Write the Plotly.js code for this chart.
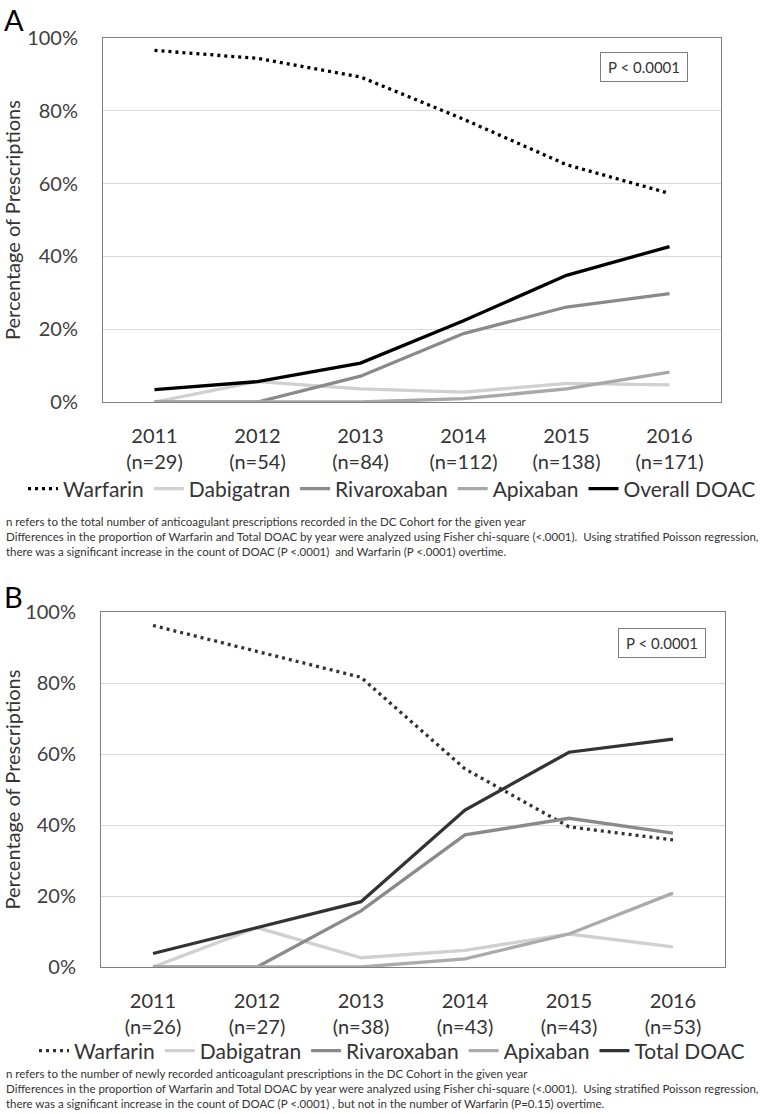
<!DOCTYPE html>
<html>
<head>
<meta charset="utf-8">
<script src="https://cdn.plot.ly/plotly-3.0.1.min.js"></script>
<style>
  body { margin: 0; background: #fff; }
  #chart { width: 784px; height: 1114px; }
</style>
</head>
<body>
<div id="chart"></div>
<script>
const years = ["2011", "2012", "2013", "2014", "2015", "2016"];
const nA = [29, 54, 84, 112, 138, 171];
const nB = [26, 27, 38, 43, 43, 53];

// panel A: all anticoagulant prescriptions (%)
const warfarinA = [96.6, 94.4, 89.3, 77.7, 65.2, 57.3];
const dabigatranA = [0, 5.6, 3.6, 2.7, 5.1, 4.7];
const rivaroxabanA = [0, 0, 7.1, 18.8, 26.1, 29.8];
const apixabanA = [0, 0, 0, 0.9, 3.6, 8.2];
const doacA = [3.4, 5.6, 10.7, 22.3, 34.8, 42.7];

// panel B: newly recorded prescriptions (%)
const warfarinB = [96.2, 88.9, 81.6, 55.8, 39.5, 35.8];
const dabigatranB = [0, 11.1, 2.6, 4.7, 9.3, 5.7];
const rivaroxabanB = [0, 0, 15.8, 37.2, 41.9, 37.7];
const apixabanB = [0, 0, 0, 2.3, 9.3, 20.8];
const doacB = [3.8, 11.1, 18.4, 44.2, 60.5, 64.2];

const yTicks = [0, 20, 40, 60, 80, 100];

const FONT = "Lato, Liberation Sans, Arial, sans-serif";
const W = 784, H = 1114;
const px = v => v / W;
const py = v => 1 - v / H;

function line(y, name, color, dash, xa, ya, leg) {
    return {
        x: years, y: y, name: name,
        type: "scatter", mode: "lines",
        line: {color: color, width: 3.3, dash: dash},
        xaxis: xa, yaxis: ya, legend: leg,
        cliponaxis: false, hoverinfo: "skip"
    };
}

const dotDash = "3px,4px";
const traces = [
    line(warfarinA, "Warfarin", "#000000", dotDash, "x", "y", "legend"),
    line(dabigatranA, "Dabigatran", "#d0d0d0", "solid", "x", "y", "legend"),
    line(rivaroxabanA, "Rivaroxaban", "#8a8a8a", "solid", "x", "y", "legend"),
    line(apixabanA, "Apixaban", "#a8a8a8", "solid", "x", "y", "legend"),
    line(doacA, "Overall DOAC", "#000000", "solid", "x", "y", "legend"),
    line(warfarinB, "Warfarin", "#333333", dotDash, "x2", "y2", "legend2"),
    line(dabigatranB, "Dabigatran", "#d0d0d0", "solid", "x2", "y2", "legend2"),
    line(rivaroxabanB, "Rivaroxaban", "#8a8a8a", "solid", "x2", "y2", "legend2"),
    line(apixabanB, "Apixaban", "#ababab", "solid", "x2", "y2", "legend2"),
    line(doacB, "Total DOAC", "#333333", "solid", "x2", "y2", "legend2")
];

function xAxis(domain, counts) {
    return {
        domain: domain, type: "category", range: [-0.5, 5.5],
        tickmode: "array", tickvals: years,
        ticktext: years.map((y, i) => y + "<br>(n=" + counts[i] + ")"),
        ticks: "", showgrid: false, zeroline: false,
        showline: true, mirror: true, linecolor: "#7f7f7f", linewidth: 1,
        layer: "below traces", ticklabelstandoff: 16,
        tickfont: {family: FONT, size: 20, color: "#333333"}, fixedrange: true
    };
}

function yAxis(domain, anchor) {
    return {
        domain: domain, anchor: anchor, range: [0, 100],
        tickmode: "array", tickvals: yTicks, ticktext: yTicks.map(v => v + "%"),
        ticks: "",
        showgrid: true, gridcolor: "#d9d9d9", gridwidth: 1, zeroline: false,
        showline: true, mirror: true, linecolor: "#7f7f7f", linewidth: 1,
        layer: "below traces", ticklabelstandoff: 20,
        tickfont: {family: FONT, size: 20, color: "#404040"},
        title: {text: "Percentage of Prescriptions", standoff: 12,
                font: {family: FONT, size: 20, color: "#333333"}},
        fixedrange: true
    };
}

const notesA = "n refers to the total number of anticoagulant prescriptions recorded in the DC Cohort for the given year<br>" +
    "Differences in the proportion of Warfarin and Total DOAC by year were analyzed using Fisher chi-square (<.0001).  Using stratified Poisson regression,<br>" +
    "there was a significant increase in the count of DOAC (P <.0001)  and Warfarin (P <.0001) overtime.";
const notesB = "n refers to the number of newly recorded anticoagulant prescriptions in the DC Cohort in the given year<br>" +
    "Differences in the proportion of Warfarin and Total DOAC by year were analyzed using Fisher chi-square (<.0001).  Using stratified Poisson regression,<br>" +
    "there was a significant increase in the count of DOAC (P <.0001) , but not in the number of Warfarin (P=0.15) overtime.";

function note(text, y) {
    return {
        text: text, xref: "paper", yref: "paper", x: px(4), y: py(y),
        xanchor: "left", yanchor: "middle", align: "left", showarrow: false,
        font: {family: FONT, size: 11.5, color: "#333333"}
    };
}

function pBox(cx, cy) {
    return {
        text: "P < 0.0001", xref: "paper", yref: "paper", x: px(cx), y: py(cy),
        xanchor: "center", yanchor: "middle", showarrow: false,
        width: 84, height: 26, bordercolor: "#7f7f7f", borderwidth: 1, bgcolor: "#ffffff",
        font: {family: FONT, size: 15, color: "#333333"}
    };
}

function panelLabel(text, y) {
    return {
        text: text, xref: "paper", yref: "paper", x: px(2), y: py(y),
        xanchor: "left", yanchor: "middle", showarrow: false,
        font: {family: FONT, size: 29, color: "#000000"}
    };
}

function legendBox(y) {
    return {
        orientation: "h", x: 0.5, xanchor: "center", y: py(y), yanchor: "middle",
        font: {family: FONT, size: 21, color: "#333333"},
        itemwidth: 30, tracegroupgap: 0, bgcolor: "rgba(0,0,0,0)"
    };
}

const layout = {
    width: W, height: H,
    margin: {l: 0, r: 0, t: 0, b: 0},
    paper_bgcolor: "#ffffff", plot_bgcolor: "#ffffff",
    showlegend: true,
    xaxis: Object.assign(xAxis([px(103), px(721)], nA), {anchor: "y"}),
    yaxis: yAxis([py(402), py(38)], "x"),
    xaxis2: Object.assign(xAxis([px(101), px(725)], nB), {anchor: "y2"}),
    yaxis2: yAxis([py(967), py(612)], "x2"),
    legend: legendBox(489),
    legend2: legendBox(1051),
    annotations: [
        panelLabel("A", 20),
        panelLabel("B", 596),
        pBox(644, 67),
        pBox(662, 643),
        note(notesA, 536),
        note(notesB, 1088)
    ]
};

Plotly.newPlot("chart", traces, layout, {displayModeBar: false, staticPlot: true});
</script>
</body>
</html>
